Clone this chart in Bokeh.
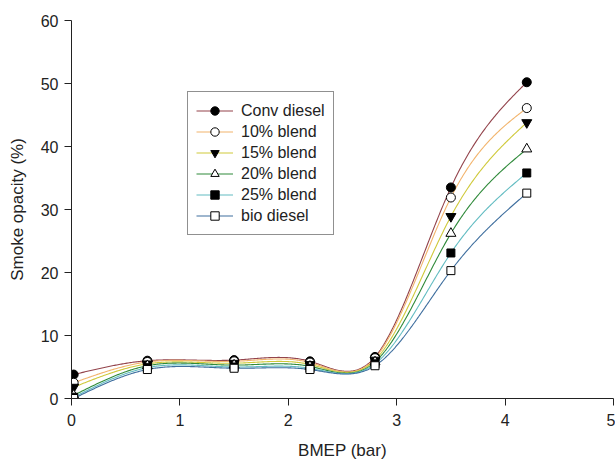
import numpy as np
from bokeh.plotting import figure
from bokeh.models import Range1d, Legend, LegendItem
from bokeh.embed import file_html
from bokeh.resources import INLINE

# ---- data ----
bmep = [0.02, 0.7, 1.5, 2.2, 2.8, 3.5, 4.2]
series_names = ["Conv diesel", "10% blend", "15% blend", "20% blend", "25% blend", "bio diesel"]
conv_diesel = [3.8, 6.0, 6.1, 5.9, 6.6, 33.5, 50.2]
blend_10 = [2.5, 5.8, 5.9, 5.7, 6.4, 31.9, 46.1]
blend_15 = [1.8, 5.5, 5.6, 5.4, 6.1, 28.9, 43.8]
blend_20 = [0.5, 5.2, 5.3, 5.1, 5.8, 26.2, 39.6]
blend_25 = [0.2, 4.9, 5.0, 4.8, 5.5, 23.1, 35.8]
bio_diesel = [0.0, 4.6, 4.8, 4.6, 5.2, 20.3, 32.6]
x_ticks = [0, 1, 2, 3, 4, 5]
y_ticks = [0, 10, 20, 30, 40, 50, 60]

series_values = [conv_diesel, blend_10, blend_15, blend_20, blend_25, bio_diesel]
line_colors = ["#93434b", "#f2b46c", "#cfc93a", "#2f8a3a", "#62bcc2", "#3e6e9e"]
markers = ["circle", "circle", "inverted_triangle", "triangle", "square", "square"]
fills = ["black", "white", "black", "white", "black", "white"]
sizes = [9, 9, 10, 10, 8, 8]


def natural_spline(x, y, n=400):
    x = np.asarray(x, float)
    y = np.asarray(y, float)
    k = len(x)
    h = np.diff(x)
    A = np.zeros((k, k))
    b = np.zeros(k)
    A[0, 0] = 1.0
    A[-1, -1] = 1.0
    for i in range(1, k - 1):
        A[i, i - 1] = h[i - 1]
        A[i, i] = 2 * (h[i - 1] + h[i])
        A[i, i + 1] = h[i]
        b[i] = 3 * ((y[i + 1] - y[i]) / h[i] - (y[i] - y[i - 1]) / h[i - 1])
    c = np.linalg.solve(A, b)
    bb = np.zeros(k - 1)
    d = np.zeros(k - 1)
    for i in range(k - 1):
        bb[i] = (y[i + 1] - y[i]) / h[i] - h[i] * (2 * c[i] + c[i + 1]) / 3
        d[i] = (c[i + 1] - c[i]) / (3 * h[i])
    xs = np.linspace(x[0], x[-1], n)
    idx = np.clip(np.searchsorted(x, xs) - 1, 0, k - 2)
    dx = xs - x[idx]
    ys = y[idx] + bb[idx] * dx + c[idx] * dx ** 2 + d[idx] * dx ** 3
    return xs, ys


FONT = "Liberation Sans"

p = figure(width=615, height=466, output_backend="svg", toolbar_location=None,
           x_range=Range1d(0, 5), y_range=Range1d(0, 60),
           min_border_left=71, min_border_right=2, min_border_top=20, min_border_bottom=68)
p.outline_line_color = None
p.xgrid.visible = False
p.ygrid.visible = False
p.background_fill_color = "white"
p.border_fill_color = "white"

for ax in (p.xaxis[0], p.yaxis[0]):
    ax.axis_line_color = "#222222"
    ax.major_tick_line_color = "#222222"
    ax.minor_tick_line_color = None
    ax.major_tick_out = 7
    ax.major_tick_in = 0
    ax.major_label_text_font = FONT
    ax.major_label_text_font_size = "16px"
    ax.major_label_text_color = "#222222"
    ax.axis_label_text_font = FONT
    ax.axis_label_text_font_size = "17px"
    ax.axis_label_text_font_style = "normal"
    ax.axis_label_text_color = "#222222"

p.xaxis.ticker = x_ticks
p.yaxis.ticker = y_ticks
p.xaxis.axis_label = "BMEP (bar)"
p.yaxis.axis_label = "Smoke opacity (%)"
p.xaxis.major_label_standoff = 8
p.xaxis.axis_label_standoff = 12
p.yaxis.major_label_standoff = 6
p.yaxis.axis_label_standoff = 11

items = []
line_renderers = []
for name, vals, col in zip(series_names, series_values, line_colors):
    xs, ys = natural_spline(bmep, vals)
    r = p.line(xs, ys, line_color=col, line_width=1.1)
    line_renderers.append(r)

marker_renderers = []
for name, vals, mk, fc, sz in zip(series_names, series_values, markers, fills, sizes):
    r = p.scatter(bmep, vals, marker=mk, size=sz, fill_color=fc, line_color="black", line_width=1)
    marker_renderers.append(r)

for name, lr, mr in zip(series_names, line_renderers, marker_renderers):
    items.append(LegendItem(label=name, renderers=[lr, mr]))

legend = Legend(items=items, location=(116, 163), margin=0, padding=8,
                spacing=0, label_height=21, glyph_height=21, glyph_width=37,
                label_standoff=8, border_line_color="#222222", border_line_width=1,
                label_text_font=FONT, label_text_font_size="16px",
                label_text_color="#222222", background_fill_alpha=1.0)
p.add_layout(legend, "center")

open("out.html", "w").write(file_html(p, INLINE))
